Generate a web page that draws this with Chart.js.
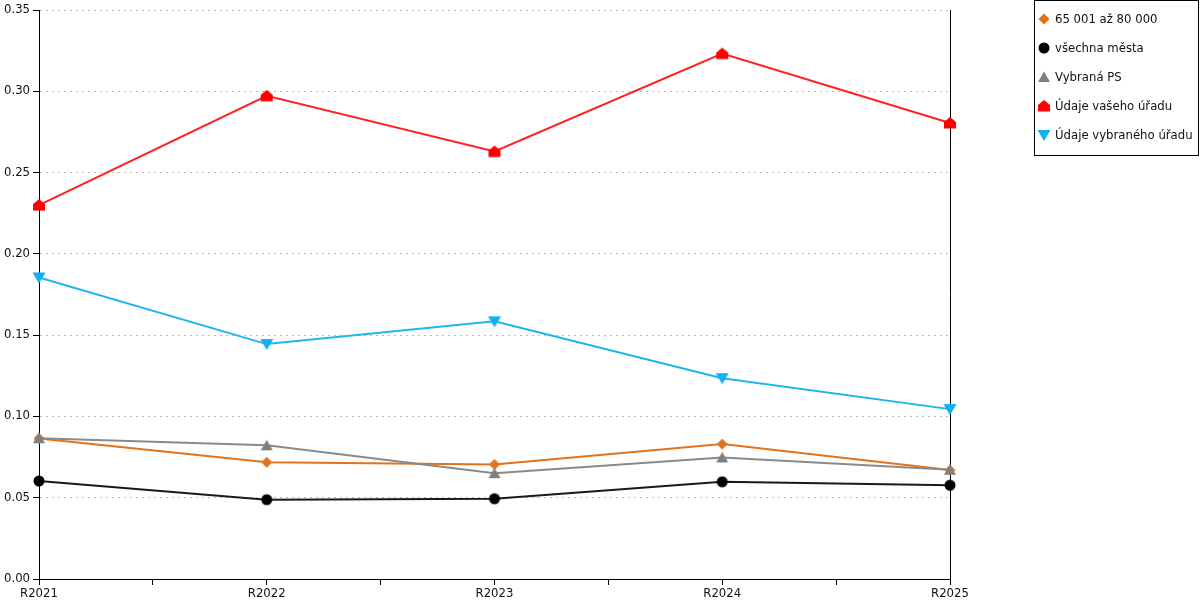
<!DOCTYPE html>
<html>
<head>
<meta charset="utf-8">
<script src="https://cdn.jsdelivr.net/npm/chart.js@4.4.0/dist/chart.umd.min.js"></script>
<style>
  html, body { margin: 0; padding: 0; background: #fff; }
  #chart-area { display: block; }
</style>
</head>
<body>
<canvas id="chart-area" width="1200" height="600"></canvas>
<script>
// categories and series values
const years = ["R2021", "R2022", "R2023", "R2024", "R2025"];
const yTicks = [0, 0.05, 0.1, 0.15, 0.2, 0.25, 0.3, 0.35];

const seriesNames = ["65 001 až 80 000", "všechna města", "Vybraná PS", "Údaje vašeho úřadu", "Údaje vybraného úřadu"];
const orangeValues = [0.0865, 0.0718, 0.0705, 0.0830, 0.0670];
const blackValues = [0.0603, 0.0488, 0.0494, 0.0598, 0.0577];
const grayValues = [0.0866, 0.0822, 0.0651, 0.0748, 0.0672];
const redValues = [0.2300, 0.2972, 0.2630, 0.3232, 0.2805];
const blueValues = [0.1855, 0.1445, 0.1585, 0.1235, 0.1045];

const FONT = "DejaVu Sans";

// draw a marker shape onto a small canvas, used both as pointStyle and in the legend
function makeMarker(shape, color) {
  const c = document.createElement("canvas");
  c.width = 14;
  c.height = 14;
  const g = c.getContext("2d");
  g.fillStyle = color;
  g.beginPath();
  if (shape === "diamond") {
    g.moveTo(7, 1.5); g.lineTo(12.5, 7); g.lineTo(7, 12.5); g.lineTo(1.5, 7);
  } else if (shape === "circle") {
    g.arc(7, 7, 5.5, 0, Math.PI * 2);
  } else if (shape === "triangle") {
    g.moveTo(7, 1.5); g.lineTo(13, 12); g.lineTo(1, 12);
  } else if (shape === "house") {
    g.moveTo(7, 1); g.lineTo(13, 6); g.lineTo(13, 12.5); g.lineTo(1, 12.5); g.lineTo(1, 6);
  } else if (shape === "down") {
    g.moveTo(0.5, 2); g.lineTo(13.5, 2); g.lineTo(7, 13);
  }
  g.closePath();
  g.fill();
  return c;
}

const colors = ["#e3731b", "#000000", "#808080", "#ff0000", "#10b0ef"];
const lineColors = ["#e3731b", "#1a1a1a", "#8a8a8a", "#ff2020", "#20b4ef"];
const markers = [
  makeMarker("diamond", colors[0]),
  makeMarker("circle", colors[1]),
  makeMarker("triangle", colors[2]),
  makeMarker("house", colors[3]),
  makeMarker("down", colors[4]),
];
const allValues = [orangeValues, blackValues, grayValues, redValues, blueValues];

const datasets = allValues.map((vals, i) => ({
  label: seriesNames[i],
  data: vals.map((v, k) => ({ x: k, y: v })),
  borderColor: lineColors[i],
  backgroundColor: colors[i],
  borderWidth: 2,
  pointStyle: markers[i],
  tension: 0,
  clip: false,
  order: 5 - i,
}));

// legend box on the right, plus the vertical line at the right edge of the plot
const extras = {
  id: "extras",
  beforeDatasetsDraw(chart) {
    const ctx = chart.ctx;
    const area = chart.chartArea;
    ctx.save();
    ctx.strokeStyle = "#000";
    ctx.lineWidth = 1;
    ctx.beginPath();
    ctx.moveTo(Math.round(area.right) + 0.5, area.top);
    ctx.lineTo(Math.round(area.right) + 0.5, area.bottom);
    ctx.stroke();
    ctx.restore();
  },
  afterDraw(chart) {
    const ctx = chart.ctx;
    ctx.save();
    ctx.strokeStyle = "#000";
    ctx.lineWidth = 1;
    ctx.strokeRect(1034.5, 0.5, 164, 155);
    ctx.font = "11.7px '" + FONT + "'";
    ctx.fillStyle = "#111";
    ctx.textBaseline = "middle";
    seriesNames.forEach((name, i) => {
      const y = 19 + i * 29;
      ctx.drawImage(markers[i], 1044 - 7, y - 7);
      ctx.fillText(name, 1055, y + 1);
    });
    ctx.restore();
  },
};

new Chart("chart-area", {
  type: "line",
  data: { datasets: datasets },
  plugins: [extras],
  options: {
    responsive: false,
    animation: false,
    layout: { padding: { top: 10, right: 250, left: 0, bottom: 0 } },
    plugins: {
      legend: { display: false },
      tooltip: { enabled: false },
    },
    scales: {
      x: {
        type: "linear",
        min: 0,
        max: years.length - 1,
        afterFit: (scale) => { scale.height = 21; },
        afterBuildTicks: (scale) => {
          const t = [];
          for (let v = 0; v <= years.length - 1; v += 0.5) t.push({ value: v });
          scale.ticks = t;
        },
        ticks: {
          autoSkip: false,
          maxRotation: 0,
          padding: 2,
          color: "#111",
          font: { family: FONT, size: 11.7 },
          callback: (v) => (Number.isInteger(v) ? years[v] : ""),
        },
        grid: { drawOnChartArea: false, drawTicks: true, tickLength: 6, tickColor: "#000" },
        border: { color: "#000", width: 1 },
      },
      y: {
        min: 0,
        max: 0.35,
        afterFit: (scale) => { scale.width = 39; },
        afterBuildTicks: (scale) => {
          scale.ticks = yTicks.map((v) => ({ value: v }));
        },
        ticks: {
          padding: 3,
          color: "#111",
          font: { family: FONT, size: 11.7 },
          callback: (v) => v.toFixed(2),
        },
        grid: { color: "#bbbbbb", tickColor: "#000", tickLength: 6, lineWidth: 1 },
        border: { color: "#000", width: 1, dash: [2, 4] },
      },
    },
  },
});
</script>
</body>
</html>
